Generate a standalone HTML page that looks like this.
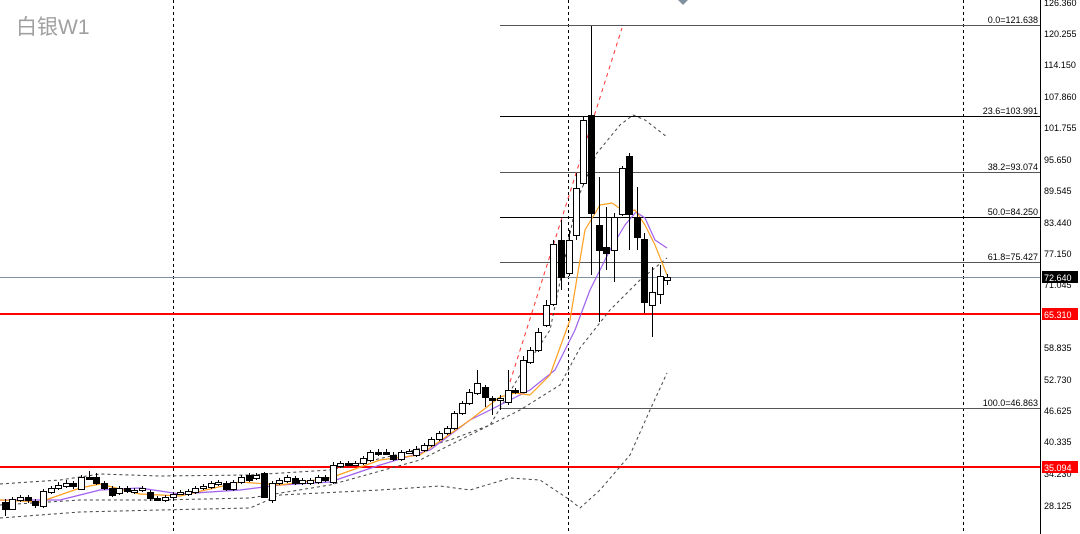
<!DOCTYPE html>
<html><head><meta charset="utf-8"><style>
html,body{margin:0;padding:0;background:#fff;}
svg{display:block;}
text{font-family:"Liberation Sans",sans-serif;}
</style></head><body>
<svg id="s" width="1080" height="534" xmlns="http://www.w3.org/2000/svg">
<rect width="1080" height="534" fill="#fff"/>
<g stroke="#000" stroke-width="1" stroke-dasharray="3,3">
<line x1="173.5" y1="0" x2="173.5" y2="534"/>
<line x1="568.5" y1="0" x2="568.5" y2="534"/>
<line x1="963.5" y1="0" x2="963.5" y2="534"/>
</g>
<g stroke-width="1">
<line x1="500" y1="25.5" x2="1040" y2="25.5" stroke="#555"/>
<line x1="500" y1="116.5" x2="1040" y2="116.5" stroke="#000"/>
<line x1="500" y1="172.5" x2="1040" y2="172.5" stroke="#555"/>
<line x1="500" y1="217.5" x2="1040" y2="217.5" stroke="#000"/>
<line x1="500" y1="262.5" x2="1040" y2="262.5" stroke="#555"/>
<line x1="0" y1="277.5" x2="1040" y2="277.5" stroke="#8090a0"/>
<line x1="500" y1="408.5" x2="1040" y2="408.5" stroke="#555"/>
</g>
<line x1="0" y1="314" x2="1040" y2="314" stroke="#f00" stroke-width="2"/>
<line x1="0" y1="467" x2="1040" y2="467" stroke="#f00" stroke-width="2"/>
<g font-size="9" fill="#000" text-anchor="end">
<text x="1038" y="23">0.0=121.638</text>
<text x="1038" y="114">23.6=103.991</text>
<text x="1038" y="170">38.2=93.074</text>
<text x="1038" y="215">50.0=84.250</text>
<text x="1038" y="260">61.8=75.427</text>
<text x="1038" y="406">100.0=46.863</text>
</g>
<g fill="none" stroke="#444" stroke-dasharray="3,3" stroke-width="1" stroke-linejoin="round">
<polyline points="0,484 60,480 100,474 160,476 250,475 330,470 400,454 450,440 490,425 520,375 550,330 577,200 597,153 620,125 633,115 645,120 667,137"/>
<polyline points="0,505 80,500 160,500 250,498 330,485 420,460 480,430 520,410 560,385 580,348 610,310 640,280 667,258"/>
<polyline points="0,518 80,512 160,510 250,508 280,495 380,490 440,486 470,490 510,478 540,480 555,490 570,500 580,508 600,490 630,455 650,410 667,373"/>
</g>
<line x1="510" y1="382" x2="622" y2="28" stroke="#f33" stroke-dasharray="4,4"/>
<polyline fill="none" stroke="#a060f0" stroke-width="1.2" stroke-linejoin="round" points="0,500 60,500 100,490 140,488 180,494 240,490 280,485 330,482 380,465 430,450 470,420 500,405 530,390 555,370 575,330 590,290 610,250 625,225 636,212 645,218 655,240 667,248"/>
<polyline fill="none" stroke="#ffa020" stroke-width="1.2" stroke-linejoin="round" points="0,500 40,502 80,488 100,484 140,494 180,496 240,482 280,485 330,478 380,460 420,455 470,420 500,397 515,393 530,395 550,375 570,320 585,230 600,205 612,203 625,212 635,210 645,225 655,245 667,275"/>
<g id="c"></g>
<line x1="1040.5" y1="0" x2="1040.5" y2="534" stroke="#000"/>
<g font-size="9" fill="#000">
<text x="1044" y="6">126.360</text>
<text x="1044" y="37">120.255</text>
<text x="1044" y="68">114.150</text>
<text x="1044" y="100">107.860</text>
<text x="1044" y="131">101.755</text>
<text x="1044" y="163">95.650</text>
<text x="1044" y="194">89.545</text>
<text x="1044" y="226">83.440</text>
<text x="1044" y="257">77.150</text>
<text x="1044" y="288">71.045</text>
<text x="1044" y="351">58.835</text>
<text x="1044" y="383">52.730</text>
<text x="1044" y="414">46.625</text>
<text x="1044" y="445">40.335</text>
<text x="1044" y="477">34.230</text>
<text x="1044" y="509">28.125</text>
</g>
<rect x="1042" y="271" width="36" height="12" fill="#000"/>
<text x="1044" y="281" font-size="9" fill="#fff">72.640</text>
<rect x="1042" y="308" width="36" height="12" fill="#f00"/>
<text x="1044" y="318" font-size="9" fill="#fff">65.310</text>
<rect x="1042" y="461" width="36" height="12" fill="#f00"/>
<text x="1044" y="471" font-size="9" fill="#fff">35.094</text>
<polygon points="678,0 688,0 683,5" fill="#8090a0"/>
<text x="16" y="34" font-size="21" fill="#a0a0a0" style='font-family:"Liberation Sans","Noto Sans CJK SC",sans-serif'>白银W1</text>
</svg>
<script>
var C=[
[5,502,509,499,516],[12,509,499,497,510],[20,500,497,495,502],[28,497,500,495,503],[35,501,505,499,508],
[43,506,491,489,508],[51,492,488,486,494],[58,488,485,482,490],[66,486,483,480,488],[73,483,486,481,489],
[81,489,477,475,490],[89,477,478,471,479],[96,477,483,473,485],[104,483,488,481,490],[112,488,495,486,497],
[119,493,488,486,495],[127,488,491,486,493],[134,491,490,488,494],[142,490,488,486,492],[150,492,498,490,501],
[157,498,498,496,500],[165,500,497,495,502],[173,497,494,492,499],[180,493,492,490,495],[188,494,491,489,496],
[195,492,488,486,494],[203,488,486,484,490],[211,487,483,481,489],[218,484,482,480,486],[226,483,489,481,491],
[233,489,482,480,491],[241,482,477,475,484],[249,475,480,473,482],[256,478,475,473,480],[264,473,497,472,498],
[272,500,483,481,503],[279,483,480,478,485],[287,481,477,475,483],[295,478,483,476,485],[302,483,480,478,485],
[310,483,480,478,485],[318,482,477,475,484],[325,477,480,475,482],[333,482,465,462,484],[340,466,463,461,468],
[348,463,464,461,466],[355,464,463,461,466],[363,463,458,456,465],[370,460,452,450,462],[378,452,453,449,456],
[386,452,452,449,455],[393,455,459,452,461],[401,459,452,450,461],[409,452,451,449,454],[416,455,449,446,457],
[424,450,445,443,452],[431,445,439,437,447],[439,439,433,431,441],[447,433,428,426,435],[454,428,413,411,430],
[462,413,403,401,415],[469,403,392,389,405],[477,393,383,370,395],[485,387,397,385,407],[492,398,400,396,415],
[500,400,398,395,410],[508,402,390,370,405],[515,390,392,388,394],[523,392,360,356,393],[530,362,350,347,364],
[538,350,332,328,352],[546,325,305,300,327],[553,304,244,240,306],[561,240,277,220,290],[569,273,240,230,276],
[576,235,188,173,240],[583,183,120,117,185],[591,115,213,26,275],[599,225,250,177,322],[606,247,253,207,270],
[614,250,217,213,282],[622,214,168,166,216],[629,156,214,153,250],[637,217,237,187,250],[644,239,302,233,313],
[652,305,292,267,337],[660,294,276,265,304],[667,280,277,274,285]];
var g=document.getElementById('c'),h='';
C.forEach(function(c){var x=c[0],o=c[1],cl=c[2],t=Math.min(o,cl),b=Math.max(o,cl);if(b-t<2)b=t+2;
var bull=cl<o;
h+='<line x1="'+(x+.5)+'" y1="'+c[3]+'" x2="'+(x+.5)+'" y2="'+c[4]+'" stroke="#000"/>';
h+='<rect x="'+(x-2.5)+'" y="'+(t+.5)+'" width="6" height="'+(b-t)+'" fill="'+(bull?'#fff':'#000')+'" stroke="#000"/>';});
g.innerHTML=h;
</script>
</body></html>
